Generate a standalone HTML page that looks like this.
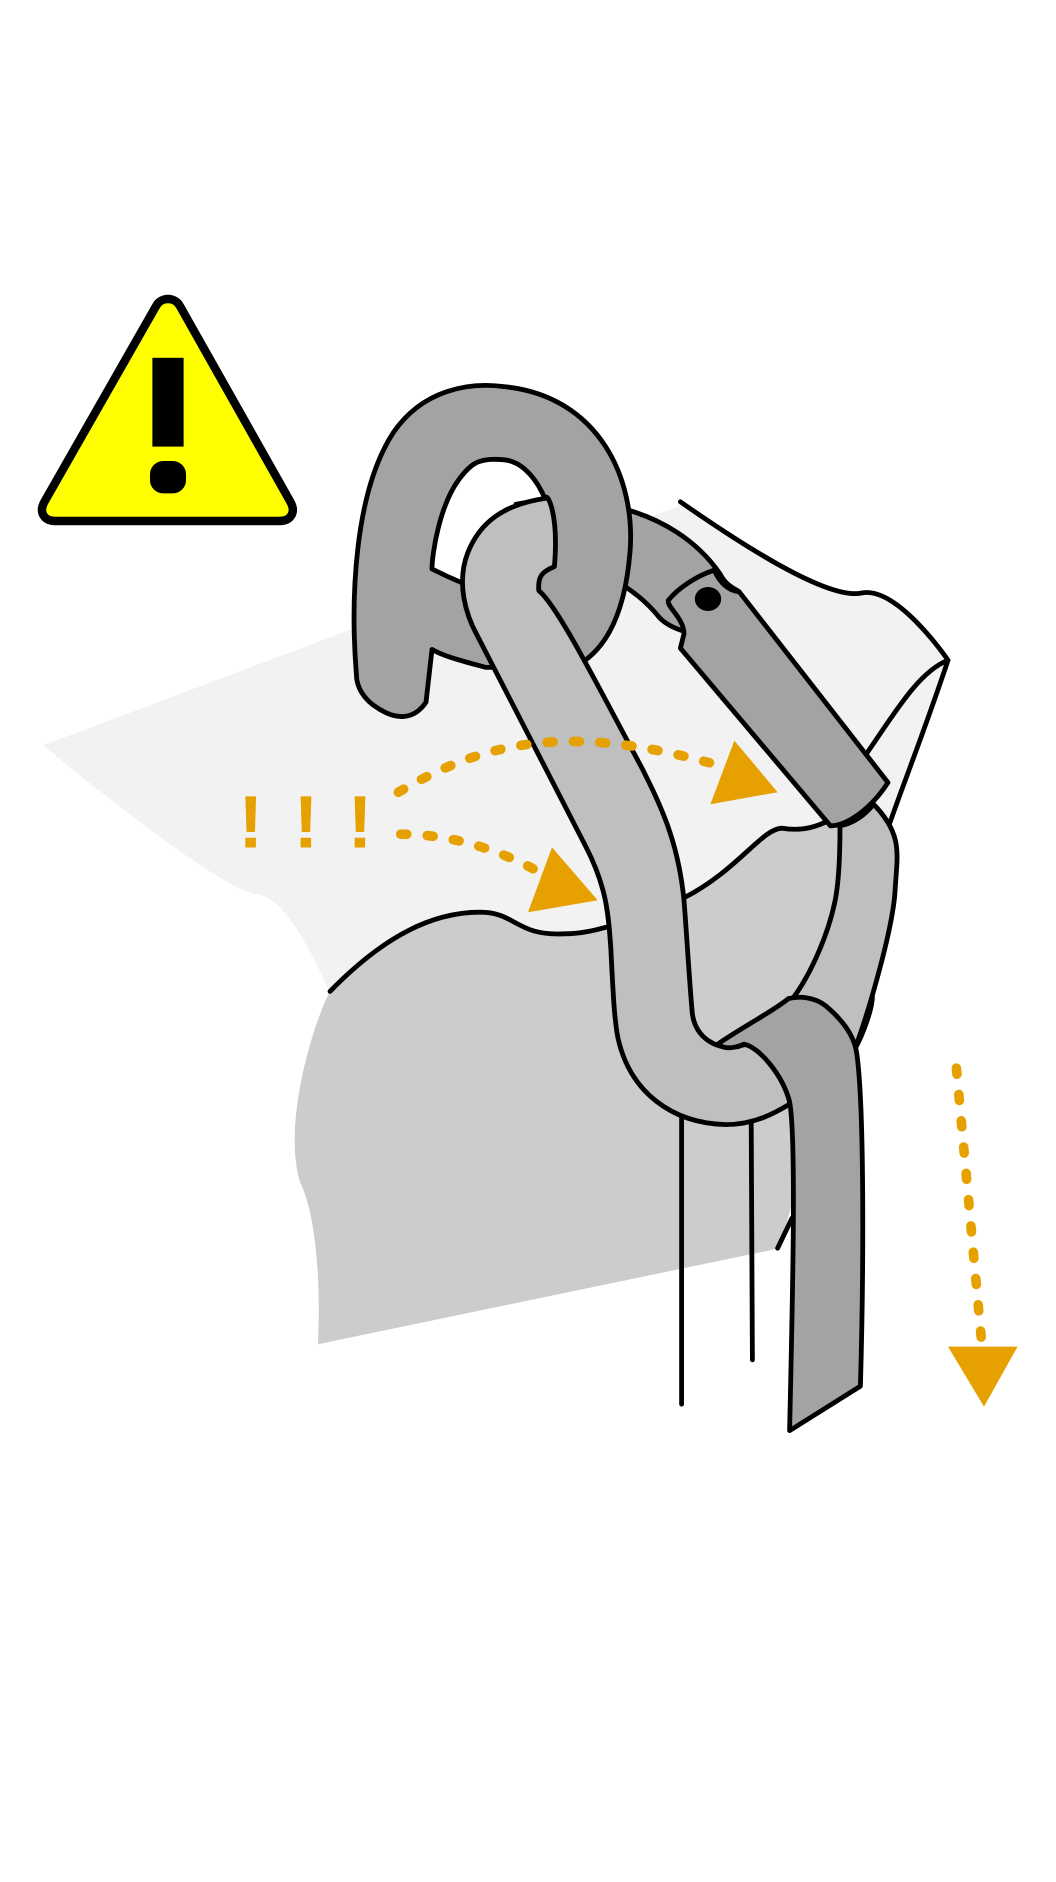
<!DOCTYPE html>
<html><head><meta charset="utf-8"><style>html,body{margin:0;padding:0;background:#fff}svg{display:block}</style></head>
<body>
<svg width="1056" height="1882" viewBox="0 0 880 1568" xmlns="http://www.w3.org/2000/svg">
<g stroke-linejoin="round" stroke-linecap="round">
<!-- front plane -->
<path d="M215,745 C240,748 265,805 275,826 C320,780 360,760 400,760 C430,760 430,780 470,778 C490,778 505,772 515,770 L570,748 C615,725 635,690 652,690 C670,693 682,688 692,683 L745,680 L650,1040 L265,1120 C268,1050 260,1005 250,985 C235,935 262,850 275,826 C260,790 238,745 215,745 Z" fill="#cccccc"/>
<!-- back plane -->
<path d="M36,621 L570,420 C640,468 700,500 718,494 C748,488 790,550 790,550 L740,690 L692,683 C682,688 670,693 652,690 C635,690 615,725 570,748 L515,770 C505,772 490,778 470,778 C430,780 430,760 400,760 C360,760 320,780 275,826 C265,805 240,748 215,745 C185,745 36,621 36,621 Z" fill="#f2f2f2"/>
<!-- edge lines -->
<path d="M567,418 C620,455 690,500 718,494 C748,488 790,550 790,550 C770,610 752,655 740,690" fill="none" stroke="#000" stroke-width="4"/>
<path d="M790,550 C765,560 745,595 722,628" fill="none" stroke="#000" stroke-width="4"/>
<path d="M275,826 C320,780 360,760 400,760 C430,760 430,780 470,778 C490,778 505,772 515,770" fill="none" stroke="#000" stroke-width="4"/>
<!-- background rope right -->
<path d="M570,748 C615,725 635,690 652,690 C670,693 682,688 692,683" fill="none" stroke="#000" stroke-width="4"/>
<path d="M700,688 C700,700 700,730 696,750 C690,780 675,812 662,830 L712,875 C725,840 745,770 746,740 C748,710 752,695 728,670 C720,680 710,686 700,688 Z" fill="#bfbfbf" stroke="#000" stroke-width="4"/>
<path d="M712,875 C720,860 727,840 727,830" fill="none" stroke="#000" stroke-width="4"/>
<!-- back rope behind hook -->
<path d="M430,420 C480,410 560,420 600,478 C605,488 612,490 616,493 L600,530 C580,530 560,525 550,515 C530,490 505,478 480,470 Z" fill="#a3a3a3" stroke="#000" stroke-width="4"/>
<!-- right bar -->
<path d="M595,475 C600,485 606,492 616,493 L740,652 C725,675 705,688 692,688 L567,540 L570,528 C570,515 555,505 557,500 C565,490 580,480 595,475 Z" fill="#a3a3a3" stroke="#000" stroke-width="4"/>
<ellipse cx="590" cy="499" rx="11" ry="10" fill="#000"/>
<!-- tail lines -->
<path d="M568,930 L568,1170 M626,935 L627,1133 M648,1040 L660,1015" fill="none" stroke="#000" stroke-width="4"/>
<!-- hook -->
<path d="M297,562 C292,500 295,410 328,360 C352,325 390,318 420,322 C500,330 530,400 525,460 C520,520 500,545 478,556 L405,556 C390,552 370,547 360,541 L355,585 C345,600 330,600 315,590 C303,583 297,572 297,562 Z M462,470 C466,425 445,385 420,383 C400,381 393,385 382,400 C366,422 360,462 360,474 C380,484 395,490 410,495 Z" fill="#a3a3a3" fill-rule="evenodd" stroke="#000" stroke-width="4"/>
<!-- light rope -->
<path d="M455,415 C420,420 400,435 390,460 C380,485 388,512 398,530 L488,705 C505,738 507,760 509,790 C511,830 512,850 515,865 C525,910 560,936 605,937 C630,937 648,926 658,920 L655,878 C640,868 625,868 615,872 C597,875 580,865 577,845 C575,825 572,775 570,750 C565,700 550,670 535,640 C500,575 465,505 449,492 C448,480 452,476 462,472 C466,425 455,410 455,415 Z" fill="#bfbfbf" stroke="#000" stroke-width="4"/>
<!-- dark strap -->
<path d="M598,870 C620,855 645,842 657,832 C665,830 678,830 688,838 C700,848 712,862 714,878 C720,920 720,1050 717,1155 L658,1192 C660,1100 664,950 658,918 C652,895 632,872 620,870 C610,874 604,874 598,870 Z" fill="#a3a3a3" stroke="#000" stroke-width="4"/>
<!-- orange arrows -->
<g stroke="#e6a000" stroke-width="8" stroke-dasharray="5 17" fill="none">
<path d="M332,660 C400,620 470,600 600,638"/>
<path d="M334,695 C380,695 420,710 452,728"/>
<path d="M797,890 L818,1118"/>
</g>
<g fill="#e6a000">
<polygon points="612,617 648,660 592,670"/>
<polygon points="460,706 498,750 440,760"/>
<polygon points="790,1122 848,1122 820,1172"/>
</g>
<!-- warning -->
<path d="M130,255 C134,247 146,247 150,255 L242,418 C247,427 242,434 233,434 L46,434 C37,434 32,427 37,418 Z" fill="#ffff00" stroke="#000" stroke-width="7"/>
</g>
<rect x="127" y="298" width="26" height="74" fill="#000"/>
<rect x="125" y="384" width="30" height="27" rx="11" fill="#000"/>
<g font-family="Liberation Sans, sans-serif" font-weight="bold" font-size="62" fill="#e6a000" text-anchor="middle">
<text x="209" y="706">!</text><text x="255" y="706">!</text><text x="300" y="706">!</text>
</g>
</svg>
</body></html>
